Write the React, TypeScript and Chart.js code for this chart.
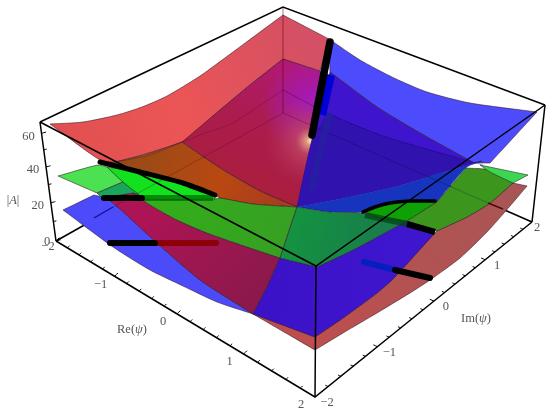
import React, { useEffect, useRef } from "react";
import { Chart, registerables } from "chart.js";

Chart.register(...registerables);

type P = [number, number];

// Axis values
const reTicks = [-2, -1.8, -1.6, -1.4, -1.2, -1, -0.8, -0.6, -0.4, -0.2, 0, 0.2, 0.4, 0.6, 0.8, 1, 1.2, 1.4, 1.6, 1.8];
const imTicks = [-1.8, -1.6, -1.4, -1.2, -1, -0.8, -0.6, -0.4, -0.2, 0, 0.2, 0.4, 0.6, 0.8, 1, 1.2, 1.4, 1.6, 1.8, 2];
const absTicks = [0, 10, 20, 30, 40, 50, 60];
const reLabels = [-2, -1, 0, 1, 2];
const imLabels = [-2, -1, 0, 1, 2];
const absLabels = [0, 20, 40, 60];

// Box corners, read in the picture plane
const boxTopBack: P = [283, 7];
const boxTopLeft: P = [40, 122];
const boxTopRight: P = [545, 105];
const boxTopFront: P = [316, 266];
const boxBottomLeft: P = [56, 241];
const boxBottomRight: P = [532, 222];
const boxBottomFront: P = [315, 397];
const boxBottomBack: P = [283, 113];

// Surface patches, read in the picture plane (back to front)
const lowerRed: P[] = [[253,314],[315,350],[343,333],[377,313],[410,293],[430,280],[460,258],[487,232],[510,206],[527,186],[513,183],[490,203],[467,217],[437,231],[393,279],[377,293],[343,318],[315,337]];
const lowerBlueFront: P[] = [[280,258],[317,267],[353,250],[383,234],[407,221],[435,233],[393,279],[377,293],[343,318],[315,337],[253,314],[267,287]];
const lowerMagenta: P[] = [[102,197],[133,193],[150,205],[177,220],[207,233],[250,248],[280,258],[267,287],[253,314],[200,280],[157,243],[112,202]];
const lowerBlueLeft: P[] = [[63,210],[94,195],[102,197],[112,202],[157,243],[200,280],[253,314],[217,302],[183,286],[150,270],[113,247]];
const topRed: P[] = [[50,124],[83,122],[117,115],[142,107],[167,96],[200,76],[233,52],[260,32],[283,15],[329,39],[320,71],[283,59],[250,85],[220,110],[200,127],[182,142],[115,162],[100,160]];
const backDark: P[] = [[182,142],[200,127],[220,110],[250,85],[283,59],[322,72],[312,140],[297,207],[260,191],[220,168]];
const orange: P[] = [[100,162],[115,162],[150,153],[182,142],[220,168],[260,191],[297,207],[253,204],[220,198],[215,195],[183,183],[140,172]];
const topBlueLight: P[] = [[329,39],[360,60],[394,78],[427,92],[470,103],[537,112],[490,163],[474,163],[420,133],[377,107],[330,72]];
const backBlue: P[] = [[330,72],[377,107],[420,133],[474,163],[482,161],[444,172],[394,187],[344,198],[297,207],[312,140]];
const backBlueShade: P[] = [[327,113],[380,135],[430,150],[474,163],[444,172],[394,187],[344,198],[297,207],[312,140]];
const blueBand: P[] = [[297,207],[344,198],[394,187],[444,172],[482,161],[466,168],[437,202],[410,201],[390,203],[375,207],[363,212],[330,212]];
const greenLight: P[] = [[58,176],[98,165],[107,167],[123,182],[97,193]];
const greenTealLeft: P[] = [[97,193],[123,182],[147,198],[133,193],[102,198]];
const greenBright: P[] = [[107,167],[140,172],[183,183],[215,195],[215,200],[146,200],[123,182]];
const greenLeft: P[] = [[133,193],[146,199],[215,199],[220,198],[253,204],[297,207],[280,258],[250,248],[207,233],[177,220],[150,205]];
const greenTeal: P[] = [[297,207],[330,212],[363,213],[380,218],[407,221],[383,234],[353,250],[317,267],[280,258]];
const greenBrightRight: P[] = [[363,212],[375,207],[390,203],[410,201],[437,202],[407,221],[380,218]];
const greenOlive: P[] = [[437,202],[466,168],[490,170],[513,183],[490,203],[467,217],[437,231],[407,221]];
const greenCorner: P[] = [[480,165],[528,175],[513,183],[490,172]];

// Thick solution curves
const arcLeft: P[] = [[100,162],[140,172],[183,183],[215,195]];
const barMidLeft: P[] = [[104,198],[142,198]];
const barMidShade: P[] = [[142,198],[213,198]];
const barLow: P[] = [[110,243],[155,243]];
const barLowShade: P[] = [[155,243],[216,243]];
const barTop: P[] = [[330,42],[312,135]];
const barTopShade: P[] = [[331,75],[322,115]];
const barTopShadeLow: P[] = [[329,116],[312,187]];
const arcRight: P[] = [[363,212],[375,207],[390,203],[410,201],[435,201]];
const barRightShade: P[] = [[365,215],[407,224]];
const barRight: P[] = [[407,224],[435,232]];
const barFrontShade: P[] = [[364,262],[395,270]];
const barFront: P[] = [[395,270],[430,278]];

// Faint inner lines seen through the sheets
const greenBackLeft: P[] = [[283,90],[233,123],[200,135],[150,155],[115,162]];
const greenBackRight: P[] = [[283,90],[327,113],[380,135],[430,150],[483,165]];

function perspective(s: number, r: number) {
  return s / (s + (1 - s) * r);
}
function along(a: P, b: P, f: number): P {
  return [a[0] + (b[0] - a[0]) * f, a[1] + (b[1] - a[1]) * f];
}
const reToPlane = (v: number) => along(boxBottomLeft, boxBottomFront, perspective((v + 2) / 4, 1.14));
const imToPlane = (v: number) => along(boxBottomFront, boxBottomRight, perspective((v + 2) / 4, 0.825));
const absToPlane = (v: number) => along(boxBottomLeft, boxTopLeft, perspective(v / 67, 0.9));

// Repeats a vertex where the outline turns sharply, so the spline keeps a true corner there
function withCorners(a: P[], closed: boolean) {
  const n = a.length;
  const out: { x: number; y: number }[] = [];
  a.forEach((p, i) => {
    const prev = closed ? a[(i - 1 + n) % n] : a[i - 1];
    const next = closed ? a[(i + 1) % n] : a[i + 1];
    out.push({ x: p[0], y: p[1] });
    if (prev && next) {
      const u = Math.atan2(p[1] - prev[1], p[0] - prev[0]);
      const v = Math.atan2(next[1] - p[1], next[0] - p[0]);
      let d = Math.abs(u - v);
      if (d > Math.PI) d = 2 * Math.PI - d;
      if (d > 0.5) out.push({ x: p[0], y: p[1] });
    }
  });
  if (closed) {
    out.push({ x: a[0][0], y: a[0][1] });
  }
  return out;
}

export default function App() {
  const ref = useRef<HTMLCanvasElement>(null);
  useEffect(() => {
    const canvas = ref.current!;
    const g = canvas.getContext("2d")!;
    const lin = (x0: number, y0: number, x1: number, y1: number, stops: [number, string][]) => {
      const o = g.createLinearGradient(x0, y0, x1, y1);
      stops.forEach(([p, c]) => o.addColorStop(p, c));
      return o;
    };
    const rad = (x: number, y: number, r: number, stops: [number, string][]) => {
      const o = g.createRadialGradient(x, y, 0, x, y, r);
      stops.forEach(([p, c]) => o.addColorStop(p, c));
      return o;
    };
    const datasets: any[] = [];
    const region = (data: P[], fill: any, edge?: string) =>
      datasets.push({
        data: withCorners(data, true), showLine: true, fill: "shape", backgroundColor: fill,
        borderColor: edge ?? "rgba(0,0,0,0)", borderWidth: edge ? 0.8 : 0, pointRadius: 0, tension: 0.22,
      });
    const line = (data: P[], color: string, width: number, cap: CanvasLineCap = "butt") =>
      datasets.push({
        data: withCorners(data, false), showLine: true, fill: false, borderColor: color, borderWidth: width,
        borderCapStyle: cap, pointRadius: 0, tension: 0.22,
      });
    const ink = "#000";
    const edge = "rgba(50,20,40,0.7)";

    // Box lines that sit behind the sheets
    line([boxBottomLeft, boxBottomBack], ink, 1.5);
    line([boxBottomRight, boxBottomBack], ink, 1.5);

    region(lowerRed, lin(300, 340, 500, 200, [[0, "rgb(190,78,78)"], [1, "rgb(170,85,85)"]]), edge);
    region(lowerBlueLeft, "rgb(75,75,250)", edge);
    region(lowerMagenta, lin(160, 210, 250, 300, [[0, "rgb(172,20,85)"], [1, "rgb(140,25,75)"]]), edge);
    region(lowerBlueFront, lin(270, 270, 400, 280, [[0, "rgb(60,18,200)"], [1, "rgb(62,22,205)"]]), edge);
    region(topRed, lin(60, 130, 300, 30, [[0, "rgb(225,80,80)"], [0.45, "rgb(236,85,85)"], [1, "rgb(212,80,100)"]]), edge);
    region(backDark, lin(283, 60, 240, 190, [[0, "rgb(178,25,115)"], [0.45, "rgb(172,28,80)"], [1, "rgb(170,30,60)"]]), edge);
    region(backDark, rad(312, 105, 50, [[0, "rgba(160,25,205,0.95)"], [1, "rgba(160,25,205,0)"]]));
    region(backDark, rad(310, 141, 46, [[0, "rgba(248,230,165,1)"], [0.08, "rgba(225,160,130,0.95)"], [0.3, "rgba(195,75,100,0.7)"], [1, "rgba(180,50,90,0)"]]));
    region(orange, lin(130, 150, 280, 200, [[0, "rgb(150,75,22)"], [0.6, "rgb(185,72,18)"], [1, "rgb(170,60,30)"]]), edge);
    region(topBlueLight, "rgb(76,76,252)", edge);
    region(backBlue, "rgb(62,20,205)", edge);
    region(backBlueShade, "rgb(48,18,175)");
    region(blueBand, "rgb(22,52,190)");
    region(greenLight, "rgb(76,225,80)", edge);
    region(greenTealLeft, "rgb(25,165,90)", edge);
    region(greenBright, "rgb(18,225,30)", edge);
    region(greenLeft, lin(150, 200, 280, 250, [[0, "rgb(50,175,25)"], [1, "rgb(55,160,35)"]]), edge);
    region(greenTeal, lin(300, 220, 380, 240, [[0, "rgb(20,145,65)"], [1, "rgb(25,125,75)"]]), edge);
    region(greenBrightRight, "rgb(15,160,5)", edge);
    region(greenOlive, "rgb(60,150,30)", edge);
    region(greenCorner, "rgb(60,215,80)", edge);

    // Lines seen through the sheets
    line([boxTopBack, boxBottomBack], "rgba(90,0,30,0.55)", 1);
    line(greenBackLeft, "rgba(70,0,30,0.25)", 1);
    line(greenBackRight, "rgba(0,0,60,0.3)", 1);
    line([[113, 207], [283, 113]], "rgba(60,0,30,0.28)", 1);
    line([[94, 218], [113, 207]], "rgba(10,10,140,0.9)", 1.4);
    line([[283, 113], [488, 203]], "rgba(0,0,40,0.25)", 1);
    line([[488, 203], [503, 209]], "rgba(70,0,0,0.9)", 1.4);

    // Solution curves
    line(barTopShadeLow, "rgba(38,30,160,0.85)", 7, "round");
    line(barTopShade, "rgb(0,0,215)", 8);
    line(barFrontShade, "rgb(5,30,190)", 6, "round");
    line(barLowShade, "rgb(140,0,10)", 6, "round");
    line(barMidShade, "rgba(0,110,0,0.75)", 6);
    line(barRightShade, "rgba(0,70,20,0.75)", 6);
    line(arcLeft, ink, 5, "round");
    line(barMidLeft, ink, 6, "round");
    line(barLow, ink, 6, "round");
    line(barTop, ink, 7.5, "round");
    line(arcRight, ink, 3.5, "round");
    line(barRight, ink, 6);
    line(barFront, ink, 6, "round");

    // Box outline and front edges
    line([boxTopLeft, boxTopBack, boxTopRight], ink, 1.5);
    line([boxTopLeft, boxTopFront, boxTopRight], ink, 1.5);
    line([boxTopLeft, boxBottomLeft], ink, 1.5);
    line([boxTopRight, boxBottomRight], ink, 1.5);
    line([boxTopFront, boxBottomFront], ink, 1.5);
    line([boxBottomLeft, boxBottomFront, boxBottomRight], ink, 1.5);

    // Ticks
    reTicks.forEach((v) => {
      const a = reToPlane(v);
      const m = Number.isInteger(v) ? 1.5 : 1;
      line([a, [a[0] + 2.2 * m, a[1] - 2.2 * m]], ink, 1);
    });
    imTicks.forEach((v) => {
      const a = imToPlane(v);
      const m = Number.isInteger(v) ? 1.5 : 1;
      line([a, [a[0] - 2.7 * m, a[1] - 1.2 * m]], ink, 1);
    });
    absTicks.forEach((v) => {
      const a = absToPlane(v);
      const m = v % 20 === 0 ? 1.5 : 1;
      line([a, [a[0] + 3 * m, a[1] - 0.8 * m]], ink, 1);
    });
    datasets.forEach((d, i) => (d.order = -i));

    const plain = "12.5px 'Liberation Serif'";
    const slanted = "italic 12.5px 'Liberation Serif'";
    const fmt = (v: number) => (v < 0 ? "\u2212" + Math.abs(v) : String(v));
    const textPlugin = {
      id: "axisText",
      afterDraw(chart: any) {
        const { ctx, scales } = chart;
        const sx = (v: number) => scales.x.getPixelForValue(v);
        const sy = (v: number) => scales.y.getPixelForValue(v);
        ctx.save();
        ctx.fillStyle = "#555";
        ctx.textAlign = "center";
        ctx.textBaseline = "middle";
        const put = (t: string, x: number, y: number) => {
          ctx.font = plain;
          ctx.fillText(t, sx(x), sy(y));
        };
        reLabels.forEach((v) => {
          const a = reToPlane(v);
          put(fmt(v), a[0] + (v === -2 ? -8 : -14), a[1] + (v === -2 ? 6 : 8));
        });
        imLabels.forEach((v) => {
          const a = imToPlane(v);
          put(fmt(v), a[0] + (v === 2 ? 5 : 12), a[1] + 6);
        });
        absLabels.forEach((v) => {
          const a = absToPlane(v);
          put(String(v), a[0] - (v === 0 ? 9 : 13), a[1] + (v === 0 ? 1 : 3));
        });
        const run = (parts: [string, boolean][], cx: number, cy: number) => {
          let w = 0;
          parts.forEach(([t, it]) => { ctx.font = it ? slanted : plain; w += ctx.measureText(t).width; });
          let x = sx(cx) - w / 2;
          ctx.textAlign = "left";
          parts.forEach(([t, it]) => {
            ctx.font = it ? slanted : plain;
            ctx.fillText(t, x, sy(cy));
            x += ctx.measureText(t).width;
          });
          ctx.textAlign = "center";
        };
        run([["|", false], ["A", true], ["|", false]], 13, 201);
        run([["Re(", false], ["\u03C8", true], [")", false]], 132, 330);
        run([["Im(", false], ["\u03C8", true], [")", false]], 476, 319);
        ctx.restore();
      },
    };

    const chart = new Chart(canvas, {
      type: "scatter",
      data: { datasets },
      options: {
        animation: false,
        responsive: false,
        parsing: false,
        layout: { padding: 0 },
        plugins: { legend: { display: false }, tooltip: { enabled: false }, title: { display: false } },
        scales: {
          x: { type: "linear", min: 0, max: 557, display: false },
          y: { type: "linear", min: 0, max: 415, reverse: true, display: false },
        },
      } as any,
      plugins: [textPlugin],
    });
    return () => chart.destroy();
  }, []);
  return (
    <canvas
      ref={ref}
      width={557}
      height={415}
      style={{ position: "absolute", left: 0, top: 0, width: 557, height: 415, display: "block", filter: "blur(0.7px)" }}
    />
  );
}
